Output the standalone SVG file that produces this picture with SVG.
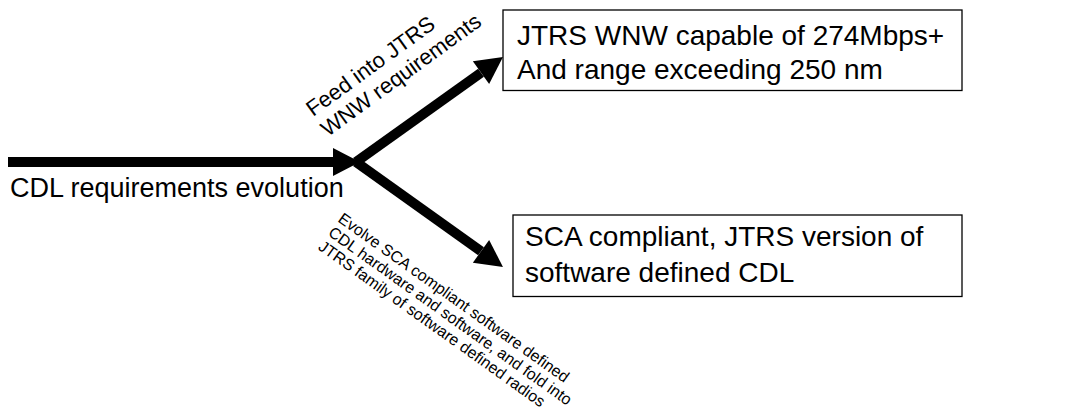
<svg xmlns="http://www.w3.org/2000/svg" width="1070" height="409" viewBox="0 0 1070 409">
  <style>
    .lbl { font-family: "Liberation Sans", Arial, sans-serif; fill: #000; }
    .box { fill: #fff; stroke: #000; stroke-width: 1.3; }
    .arrow { stroke: #000; stroke-width: 10; fill: none; marker-end: url(#head); }
  </style>
  <defs>
    <marker id="head" markerUnits="userSpaceOnUse" markerWidth="30" markerHeight="30" viewBox="0 -15 28 30" refX="0" refY="0" orient="auto" overflow="visible">
      <path d="M0,-14 L27,0 L0,14 Z" fill="#000"/>
    </marker>
  </defs>
  <rect width="1070" height="409" fill="#fff"/>
  <g id="connectors">
    <line class="arrow" x1="8" y1="162" x2="333" y2="162"/>
    <line class="arrow" x1="356" y1="162" x2="481" y2="72.7"/>
    <line class="arrow" x1="356" y1="162" x2="481" y2="251.3"/>
  </g>
  <g id="source">
    <text class="lbl" x="10" y="197" font-size="27">CDL requirements evolution</text>
  </g>
  <g id="label-upper">
    <text class="lbl" font-size="22" transform="translate(313,117) rotate(-36)">
      <tspan x="0" y="0">Feed into JTRS</tspan>
      <tspan x="0" y="25">WNW requirements</tspan>
    </text>
  </g>
  <g id="label-lower">
    <text class="lbl" font-size="16" transform="translate(337,221) rotate(35.5)">
      <tspan x="0" y="0">Evolve SCA compliant software defined</tspan>
      <tspan x="0" y="17">CDL hardware and software, and fold into</tspan>
      <tspan x="0" y="34">JTRS family of software defined radios</tspan>
    </text>
  </g>
  <g id="node-wnw">
    <rect class="box" x="503" y="10" width="459" height="80.5"/>
    <text class="lbl" font-size="28" x="517" y="45">JTRS WNW capable of 274Mbps+</text>
    <text class="lbl" font-size="28" x="517" y="79">And range exceeding 250 nm</text>
  </g>
  <g id="node-sca">
    <rect class="box" x="513" y="215" width="449" height="81.5"/>
    <text class="lbl" font-size="28" x="525" y="246">SCA compliant, JTRS version of</text>
    <text class="lbl" font-size="28" x="525" y="282">software defined CDL</text>
  </g>
</svg>
